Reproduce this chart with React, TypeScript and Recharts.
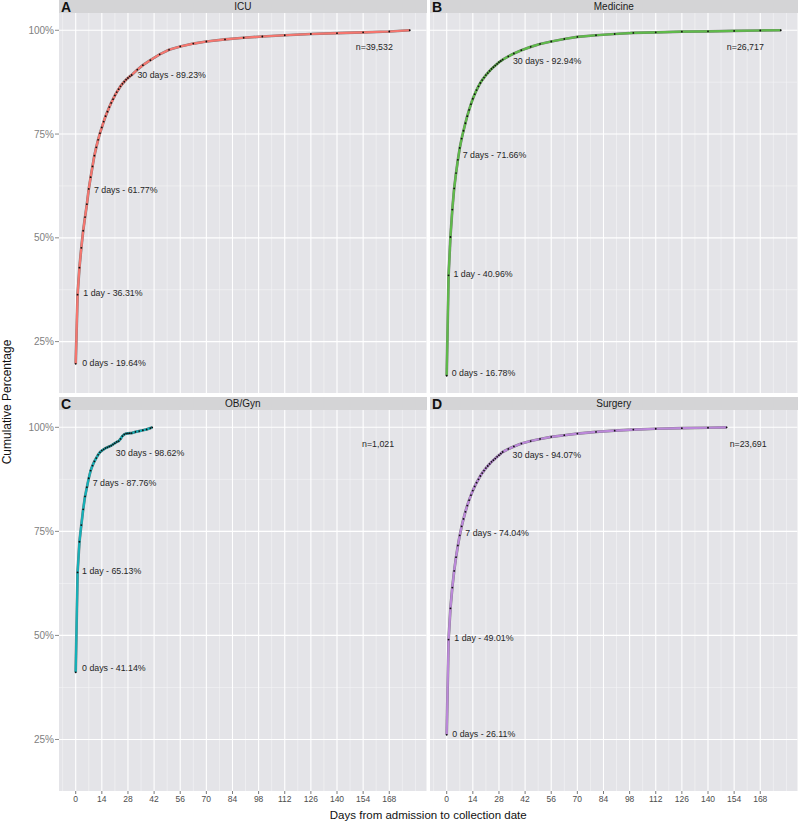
import React from 'react'
import { ComposedChart, Line, Scatter, XAxis, YAxis, CartesianGrid, ReferenceLine } from 'recharts'

// shared axes
const xTicks = [0, 14, 28, 42, 56, 70, 84, 98, 112, 126, 140, 154, 168]
const xMinor = [-7, 7, 21, 35, 49, 63, 77, 91, 105, 119, 133, 147, 161, 175, 182]
const yTicks = [25, 50, 75, 100]
const yMinor = [37.5, 62.5, 87.5]
const X_DOMAIN: [number, number] = [-8.95, 187.95]
const Y_DOMAIN: [number, number] = [12.62, 104.16]

const categories = ['ICU', 'Medicine', 'OB/Gyn', 'Surgery']
const panelLetters = ['A', 'B', 'C', 'D']
const counts = ['n=39,532', 'n=26,717', 'n=1,021', 'n=23,691']
const colors = ['#F5766F', '#5FBA4A', '#15B0B8', '#BB88D9']

const dailyDays = [0, 1, 2, 3, 4, 5, 6, 7, 8, 9, 10, 11, 12, 13, 14, 15, 16, 17, 18, 19, 20, 21, 22, 23, 24, 25, 26, 27, 28, 29, 30]
const longTail = [33, 36, 40, 45, 50, 56, 63, 70, 80, 90, 100, 112, 126, 140, 154, 168, 179]
const obTail = [32, 34, 36, 38, 40, 41]
const surgeryTail = [33, 36, 40, 45, 50, 56, 63, 70, 80, 90, 100, 112, 126, 140, 150]

const icuPct = [19.64, 36.31, 42.8, 47.6, 51.7, 55.0, 58.1, 61.77, 64.6, 67.2, 69.8, 71.8, 73.6, 75.2, 76.6, 78.0, 79.3, 80.4, 81.5, 82.5, 83.4, 84.3, 85.1, 85.8, 86.5, 87.1, 87.6, 88.1, 88.5, 88.9, 89.23,
  90.5, 91.6, 92.8, 94.2, 95.3, 96.1, 96.8, 97.3, 97.8, 98.2, 98.5, 98.8, 99.1, 99.3, 99.5, 99.7, 100]
const medicinePct = [16.78, 40.96, 50.2, 56.8, 61.9, 65.6, 68.8, 71.66, 73.9, 75.8, 77.6, 79.3, 80.8, 82.2, 83.5, 84.6, 85.6, 86.5, 87.3, 88.0, 88.6, 89.2, 89.7, 90.2, 90.7, 91.1, 91.5, 91.9, 92.3, 92.6, 92.94,
  93.7, 94.4, 95.2, 96.0, 96.7, 97.3, 97.9, 98.4, 98.8, 99.1, 99.35, 99.5, 99.65, 99.75, 99.85, 99.95, 100]
const obPct = [41.14, 65.13, 72.5, 76.5, 80.3, 83.4, 85.6, 87.76, 89.6, 90.8, 91.8, 92.6, 93.4, 94.0, 94.4, 94.7, 95.0, 95.2, 95.4, 95.6, 95.9, 96.2, 96.5, 96.7, 97.2, 97.9, 98.3, 98.5, 98.55, 98.6, 98.62,
  98.9, 99.1, 99.3, 99.5, 99.8, 100]
const surgeryPct = [26.11, 49.01, 56.5, 61.5, 65.5, 68.8, 71.6, 74.04, 76.2, 78.0, 79.7, 81.2, 82.5, 83.7, 84.8, 85.8, 86.7, 87.5, 88.3, 89.0, 89.6, 90.2, 90.7, 91.2, 91.7, 92.1, 92.5, 92.9, 93.3, 93.7, 94.07,
  94.8, 95.4, 96.1, 96.7, 97.2, 97.7, 98.1, 98.5, 98.9, 99.2, 99.45, 99.65, 99.8, 99.9, 100]

// milestone annotations
const milestoneDays = [0, 1, 7, 30]
const icuMilestones = [19.64, 36.31, 61.77, 89.23]
const medicineMilestones = [16.78, 40.96, 71.66, 92.94]
const obMilestones = [41.14, 65.13, 87.76, 98.62]
const surgeryMilestones = [26.11, 49.01, 74.04, 94.07]
// where each annotation sits (data space)
const icuNoteX = [3.5, 4.1, 9.8, 33.1]
const icuNoteY = [19.95, 36.7, 61.45, 89.2]
const medicineNoteX = [2.7, 3.6, 8.6, 35.5]
const medicineNoteY = [17.4, 41.4, 70.05, 92.5]
const obNoteX = [3.4, 3.4, 9.1, 21.5]
const obNoteY = [42.1, 65.5, 86.6, 93.8]
const surgeryNoteX = [3.0, 4.1, 10.0, 35.3]
const surgeryNoteY = [26.3, 49.5, 74.6, 93.4]
const countX = [160, 160, 162, 161.5]
const countY = [95.9, 95.9, 95.9, 95.9]

const FONT = '"Liberation Sans", Arial, Helvetica, sans-serif'
const PANEL_BG = '#E4E4E8'
const STRIP_BG = '#D4D4D6'

type Pt = { day: number; pct: number; text?: string }

const toSeries = (days: number[], pct: number[]): Pt[] => days.map((d, i) => ({ day: d, pct: pct[i] }))
const toNotes = (vals: number[], xs: number[], ys: number[]): Pt[] =>
  milestoneDays.map((d, i) => ({
    day: xs[i],
    pct: ys[i],
    text: `${d} ${d === 1 ? 'day' : 'days'} - ${vals[i].toFixed(2)}%`,
  }))

const seriesList = [
  toSeries([...dailyDays, ...longTail], icuPct),
  toSeries([...dailyDays, ...longTail], medicinePct),
  toSeries([...dailyDays, ...obTail], obPct),
  toSeries([...dailyDays, ...surgeryTail], surgeryPct),
]
const notesList = [
  toNotes(icuMilestones, icuNoteX, icuNoteY),
  toNotes(medicineMilestones, medicineNoteX, medicineNoteY),
  toNotes(obMilestones, obNoteX, obNoteY),
  toNotes(surgeryMilestones, surgeryNoteX, surgeryNoteY),
]

const noteShape = (anchor: 'start' | 'middle') => (props: any) => (
  <text x={props.cx} y={props.cy} dy="0.35em" textAnchor={anchor} fontSize={8.8} fontFamily={FONT} fill="#262626">
    {props.payload.text}
  </text>
)

const COL_LEFT = [0, 430]
const PLOT_LEFT = [59, 430]
const PLOT_W = 367.5
const ROW_TOP = [13, 410]
const STRIP_TOP = [0, 397]

function Panel({ idx }: { idx: number }) {
  const col = idx % 2
  const row = Math.floor(idx / 2)
  const showY = col === 0
  const showX = row === 1
  const width = showY ? PLOT_W + 59 : PLOT_W
  const height = showX ? 397 : 380
  const series = seriesList[idx]
  const count = [{ day: countX[idx], pct: countY[idx], text: counts[idx] }]
  return (
    <div style={{ position: 'absolute', left: COL_LEFT[col], top: ROW_TOP[row] }}>
      <ComposedChart width={width} height={height} margin={{ top: 0, right: 0, bottom: 0, left: showY ? 3 : 0 }}>
        <CartesianGrid fill={PANEL_BG} horizontal={false} vertical={false} />
        <XAxis
          type="number"
          dataKey="day"
          domain={X_DOMAIN}
          ticks={xTicks}
          interval={0}
          allowDataOverflow
          hide={!showX}
          height={16}
          tickSize={3}
          tickMargin={2}
          axisLine={false}
          tickLine={{ stroke: '#7a7a7a' }}
          tick={{ fontSize: 8.5, fill: '#4d4d4d', fontFamily: FONT }}
        />
        <YAxis
          type="number"
          domain={Y_DOMAIN}
          ticks={yTicks}
          interval={0}
          allowDataOverflow
          hide={!showY}
          width={56}
          tickSize={4}
          tickMargin={1}
          axisLine={false}
          tickLine={{ stroke: '#8a8a8a' }}
          tick={{ fontSize: 10, fill: '#808080', fontFamily: FONT }}
          tickFormatter={(v: number) => `${v}%`}
        />
        {xMinor.map((v) => (
          <ReferenceLine key={`xm${v}`} x={v} stroke="#F5F5F7" strokeWidth={0.6} />
        ))}
        {yMinor.map((v) => (
          <ReferenceLine key={`ym${v}`} y={v} stroke="#F5F5F7" strokeWidth={0.6} />
        ))}
        {xTicks.map((v) => (
          <ReferenceLine key={`xM${v}`} x={v} stroke="#FFFFFF" strokeWidth={1.1} />
        ))}
        {yTicks.map((v) => (
          <ReferenceLine key={`yM${v}`} y={v} stroke="#FFFFFF" strokeWidth={1.1} />
        ))}
        <Line
          data={series}
          dataKey="pct"
          type="linear"
          stroke="#1c1c1c"
          strokeOpacity={0.55}
          strokeWidth={2.7}
          dot={false}
          activeDot={false}
          isAnimationActive={false}
        />
        <Line
          data={series}
          dataKey="pct"
          type="linear"
          stroke={colors[idx]}
          strokeWidth={2.2}
          dot={{ r: 0.9, fill: '#111', stroke: 'none' }}
          activeDot={false}
          isAnimationActive={false}
        />
        <Scatter data={notesList[idx]} dataKey="pct" shape={noteShape('start')} isAnimationActive={false} />
        <Scatter data={count} dataKey="pct" shape={noteShape('middle')} isAnimationActive={false} />
      </ComposedChart>
    </div>
  )
}

export default function App() {
  return (
    <div style={{ position: 'absolute', left: 0, top: 0, width: 798, height: 826, background: '#fff', fontFamily: FONT }}>
      {categories.map((c, i) => {
        const col = i % 2
        const row = Math.floor(i / 2)
        return (
          <div
            key={c}
            style={{
              position: 'absolute',
              left: PLOT_LEFT[col],
              top: STRIP_TOP[row],
              width: PLOT_W,
              height: 13,
              background: STRIP_BG,
            }}
          />
        )
      })}
      {categories.map((_, i) => (
        <Panel key={i} idx={i} />
      ))}
      <svg width={798} height={826} style={{ position: 'absolute', left: 0, top: 0, pointerEvents: 'none' }}>
        {categories.map((c, i) => {
          const col = i % 2
          const row = Math.floor(i / 2)
          return (
            <g key={c}>
              <text x={PLOT_LEFT[col] + PLOT_W / 2} y={STRIP_TOP[row] + 10} textAnchor="middle" fontSize={10} fill="#1a1a1a" fontFamily={FONT}>
                {c}
              </text>
              <text x={PLOT_LEFT[col] + 2} y={STRIP_TOP[row] + 12.4} fontSize={14} fontWeight="bold" fill="#111" fontFamily={FONT}>
                {panelLetters[i]}
              </text>
            </g>
          )
        })}
        <text x={428.25} y={819} textAnchor="middle" fontSize={11.5} fill="#111" fontFamily={FONT}>
          Days from admission to collection date
        </text>
        <text transform="translate(10.5,402) rotate(-90)" textAnchor="middle" fontSize={12} fill="#111" fontFamily={FONT}>
          Cumulative Percentage
        </text>
      </svg>
    </div>
  )
}
